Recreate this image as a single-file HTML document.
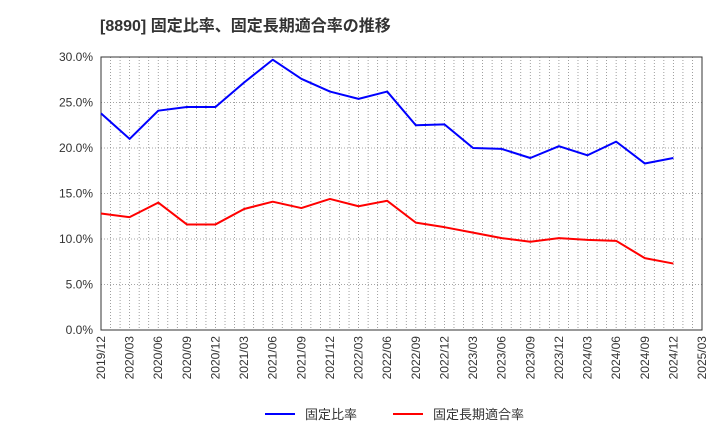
<!DOCTYPE html>
<html><head><meta charset="utf-8"><style>
body{margin:0;background:#fff;font-family:"Liberation Sans","Noto Sans CJK JP",sans-serif}
svg text{font-family:"Liberation Sans","Noto Sans CJK JP",sans-serif}
</style></head><body>
<svg id="c" width="720" height="440" xmlns="http://www.w3.org/2000/svg">
<text x="100" y="31" font-size="16" font-weight="bold" fill="#333">[8890]  固定比率、固定長期適合率の推移</text>
<g id="grid"></g><g id="axes"></g><g id="series"></g>
<g>
<line x1="265" y1="414" x2="295" y2="414" stroke="#0000ff" stroke-width="2"/>
<text x="305" y="419" font-size="13" fill="#333">固定比率</text>
<line x1="393" y1="414" x2="423" y2="414" stroke="#ff0000" stroke-width="2"/>
<text x="433" y="419" font-size="13" fill="#333">固定長期適合率</text>
</g>
</svg>
<script>
const categories=["2019/12","2020/03","2020/06","2020/09","2020/12","2021/03","2021/06","2021/09","2021/12","2022/03","2022/06","2022/09","2022/12","2023/03","2023/06","2023/09","2023/12","2024/03","2024/06","2024/09","2024/12","2025/03"];
const fixedRatio=[23.8,21.0,24.1,24.5,24.5,27.2,29.7,27.6,26.2,25.4,26.2,22.5,22.6,20.0,19.9,18.9,20.2,19.2,20.7,18.3,18.9];
const fixedLongRatio=[12.8,12.4,14.0,11.6,11.6,13.3,14.1,13.4,14.4,13.6,14.2,11.8,11.3,10.7,10.1,9.7,10.1,9.9,9.8,7.9,7.3];
const yTicks=[0,5,10,15,20,25,30];
const yTickLabels=["0.0%","5.0%","10.0%","15.0%","20.0%","25.0%","30.0%"];
const NS="http://www.w3.org/2000/svg";
const L=101,R=702,T=57,B=330,yMax=30;
const n=categories.length-1;
const xs=i=>L+(R-L)*i/n;
const ys=v=>B-(B-T)*v/yMax;
function mk(tag,attrs,parent){const e=document.createElementNS(NS,tag);for(const k in attrs)e.setAttribute(k,attrs[k]);document.getElementById(parent).appendChild(e);return e;}
for(let m=1;m<n*3;m++){const x=L+(R-L)*m/(n*3);
const g=mk("line",{x1:x,x2:x,y1:T,y2:B,stroke:"#888","stroke-width":0.8,"stroke-dasharray":"1,2"},"grid");

}
yTicks.forEach((t,i)=>{const y=ys(t);
if(t>0&&t<yMax){const g=mk("line",{x1:L,x2:R,y1:y,y2:y,stroke:"#888","stroke-width":0.8,"stroke-dasharray":"1,2"},"grid");

}
const tx=mk("text",{x:L-8,y:y+4,"text-anchor":"end","font-size":12,fill:"#333"},"axes");tx.textContent=yTickLabels[i];

});
categories.forEach((c,i)=>{const x=xs(i);
const tx=mk("text",{x:0,y:0,"text-anchor":"end","font-size":12,fill:"#333",transform:`translate(${x+4},${B+6}) rotate(-90)`},"axes");tx.textContent=c;

});
const fr=mk("rect",{x:L,y:T,width:R-L,height:B-T,fill:"none",stroke:"#333","stroke-width":1},"axes");


function line(data,color,name){const p=mk("polyline",{points:data.map((v,i)=>xs(i)+","+ys(v)).join(" "),fill:"none",stroke:color,"stroke-width":2,"stroke-linejoin":"round"},"series");

}
line(fixedRatio,"#0000ff","fixed-ratio-line");
line(fixedLongRatio,"#ff0000","fixed-long-term-ratio-line");
</script>
</body></html>
